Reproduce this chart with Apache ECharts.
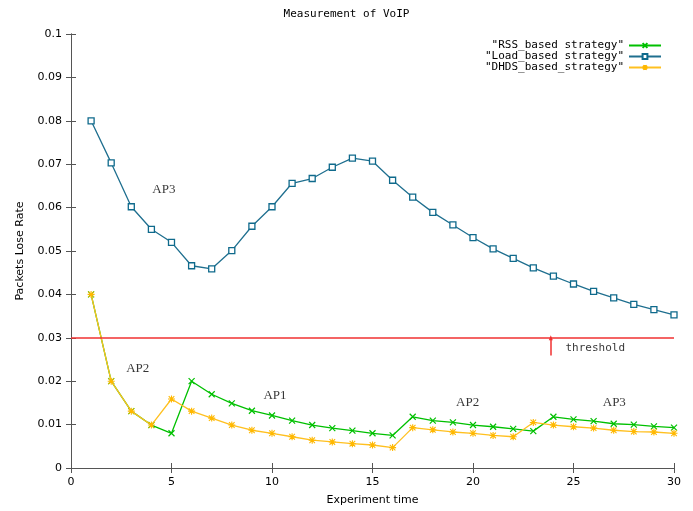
<!DOCTYPE html>
<html>
<head>
<meta charset="utf-8">
<script src="https://cdn.jsdelivr.net/npm/echarts@6/dist/echarts.min.js"></script>
<style>
html,body{margin:0;padding:0;background:#fff;}
#chart{width:693px;height:511px;}
</style>
</head>
<body>
<div id="chart"></div>
<script>
var xValues = [1,2,3,4,5,6,7,8,9,10,11,12,13,14,15,16,17,18,19,20,21,22,23,24,25,26,27,28,29,30];
var rssValues = [0.040,0.020,0.0131,0.0099,0.0080,0.0200,0.0170,0.0149,0.0132,0.0121,0.0109,0.0099,0.0092,0.0086,0.0080,0.0075,0.0118,0.0109,0.0105,0.0099,0.0095,0.0090,0.0085,0.0118,0.0112,0.0108,0.0102,0.0100,0.0096,0.0093];
var loadValues = [0.080,0.0703,0.0602,0.0550,0.0520,0.0466,0.0459,0.0501,0.0557,0.0602,0.0656,0.0667,0.0693,0.0714,0.0707,0.0663,0.0624,0.0589,0.0560,0.0531,0.0505,0.0483,0.0461,0.0442,0.0424,0.0407,0.0392,0.0377,0.0365,0.0353];
var dhdsValues = [0.040,0.020,0.0131,0.0099,0.0159,0.0131,0.0115,0.0099,0.0087,0.0080,0.0072,0.0064,0.0060,0.0056,0.0053,0.0047,0.0093,0.0088,0.0083,0.0080,0.0075,0.0072,0.0105,0.0099,0.0095,0.0092,0.0087,0.0084,0.0083,0.0080];
var seriesNames = ['"RSS_based strategy"','"Load_based strategy"','"DHDS_based_strategy"'];
var thresholdValue = 0.03;
var thresholdArrow = {x: 23.87, from: 0.0259, to: 0.0300, text: 'threshold', textX: 24.6, textY: 0.0277};
var apLabels = ['AP3','AP2','AP1','AP2','AP3'];
var apX = [4.62, 3.32, 10.15, 19.73, 27.03];
var apY = [0.0642, 0.0228, 0.0167, 0.0151, 0.0151];

function pairs(ys){ return xValues.map(function(x,i){ return [x, ys[i]]; }); }

var crossPath = 'path://M0,0L10,10M10,0L0,10';
var starPath = 'path://M0,5L10,5M5,0L5,10M1,1L9,9M9,1L1,9';
var axisColor = '#555555';
var sansFont = 'DejaVu Sans';
var monoFont = 'DejaVu Sans Mono';

var chart = echarts.init(document.getElementById('chart'), null, {renderer:'canvas'});
var option = {
  animation: false,
  backgroundColor: '#ffffff',
  title: {
    text: 'Measurement of VoIP',
    left: 'center', top: 4,
    textStyle: {fontFamily: monoFont, fontSize: 11, fontWeight: 'normal', color: '#000'}
  },
  legend: {
    orient: 'vertical', right: 31, top: 40, align: 'right',
    itemWidth: 32, itemHeight: 6, itemGap: 0, padding: 0,
    textStyle: {fontFamily: monoFont, fontSize: 11, color: '#000', lineHeight: 10},
    data: seriesNames
  },
  grid: {left: 71, right: 19, top: 34, bottom: 41, containLabel: false},
  xAxis: [{
    type: 'value', min: 0, max: 30, interval: 5,
    name: 'Experiment time', nameLocation: 'middle', nameGap: 27,
    nameTextStyle: {fontFamily: sansFont, fontSize: 11, color: '#000'},
    axisLine: {lineStyle: {color: axisColor, width: 1}},
    axisTick: {inside: true, length: 5, lineStyle: {color: axisColor}},
    axisLabel: {fontFamily: sansFont, fontSize: 11, color: '#000', margin: 9},
    splitLine: {show: false}
  },{
    type: 'value', min: 0, max: 30, interval: 5, position: 'top',
    axisLine: {lineStyle: {color: axisColor, width: 1}},
    axisTick: {inside: true, length: 5, lineStyle: {color: axisColor}},
    axisLabel: {show: false}, splitLine: {show: false}
  }],
  yAxis: [{
    type: 'value', min: 0, max: 0.1, interval: 0.01,
    name: 'Packets Lose Rate', nameLocation: 'middle', nameGap: 45, nameRotate: 90,
    nameTextStyle: {fontFamily: sansFont, fontSize: 11, color: '#000'},
    axisLine: {show: true, lineStyle: {color: axisColor, width: 1}},
    axisTick: {show: true, inside: true, length: 5, lineStyle: {color: axisColor}},
    axisLabel: {fontFamily: sansFont, fontSize: 11, color: '#000', margin: 9},
    splitLine: {show: false}
  },{
    type: 'value', min: 0, max: 0.1, interval: 0.01, position: 'right',
    axisLine: {show: true, lineStyle: {color: axisColor, width: 1}},
    axisTick: {show: true, inside: true, length: 5, lineStyle: {color: axisColor}},
    axisLabel: {show: false}, splitLine: {show: false}
  }],
  series: [
    {
      name: seriesNames[0], type: 'line', data: pairs(rssValues),
      symbol: crossPath, symbolSize: 6, showAllSymbol: true,
      lineStyle: {color: '#00c000', width: 1.3},
      itemStyle: {color: 'rgba(0,0,0,0)', borderColor: '#00c000', borderWidth: 1.2},
      z: 2
    },
    {
      name: seriesNames[1], type: 'line', data: pairs(loadValues),
      symbol: 'rect', symbolSize: 6, showAllSymbol: true,
      lineStyle: {color: '#1f6f8f', width: 1.3},
      itemStyle: {color: '#ffffff', borderColor: '#0f6a8c', borderWidth: 1.3},
      z: 3
    },
    {
      name: seriesNames[2], type: 'line', data: pairs(dhdsValues),
      symbol: starPath, symbolSize: 7, showAllSymbol: true,
      lineStyle: {color: '#ffc020', width: 1.3},
      itemStyle: {color: 'rgba(0,0,0,0)', borderColor: '#ffb800', borderWidth: 1.1},
      z: 4,
      markLine: {
        silent: true, animation: false,
        data: [
          [{coord: [0, thresholdValue], symbol: 'none'}, {coord: [30, thresholdValue], symbol: 'none'}],
          [{coord: [thresholdArrow.x, thresholdArrow.from], symbol: 'none'}, {coord: [thresholdArrow.x, thresholdArrow.to], symbol: 'triangle', symbolSize: [4, 5]}]
        ],
        lineStyle: {color: '#f03030', width: 1.5, type: 'solid'},
        label: {show: false}
      }
    },
    {
      name: 'labels', type: 'scatter', symbolSize: 0, silent: true,
      data: apLabels.map(function(t,i){ return {value: [apX[i], apY[i]], name: t}; }),
      label: {show: true, position: 'inside', formatter: '{b}',
        fontFamily: 'Liberation Serif', fontSize: 13, color: '#000'},
      z: 5
    },
    {
      name: 'thresholdText', type: 'scatter', symbolSize: 0, silent: true,
      data: [{value: [thresholdArrow.textX, thresholdArrow.textY], name: thresholdArrow.text}],
      label: {show: true, position: 'right', distance: 0, formatter: '{b}',
        fontFamily: monoFont, fontSize: 11, color: '#000'},
      z: 5
    }
  ]
};
chart.setOption(option);
</script>
</body>
</html>
